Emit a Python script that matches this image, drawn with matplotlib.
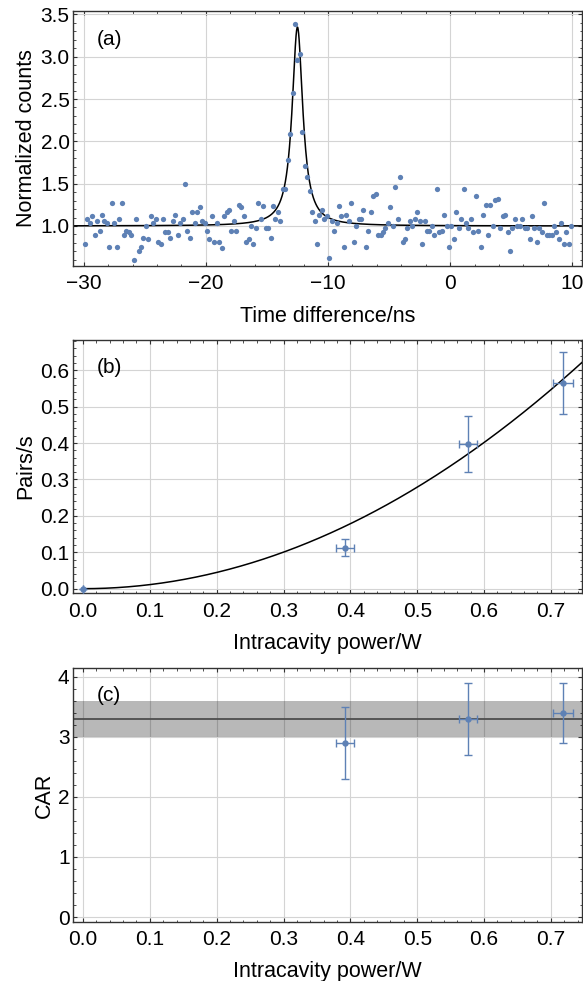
import numpy as np
import matplotlib
matplotlib.use("Agg")
import matplotlib.pyplot as plt
from matplotlib.ticker import MultipleLocator

plt.rcParams['font.family'] = ['Liberation Sans', 'DejaVu Sans']

# ---------------- Panel (a): coincidence histogram ----------------
time_start_ns = -29.9
bin_width_ns = 0.2
counts = [
    0.783, 1.083, 1.035, 1.114, 0.894, 1.055, 0.945, 1.134, 1.055, 1.035,
    0.752, 1.276, 1.035, 0.752, 1.083, 1.276, 0.894, 0.945, 0.925, 0.894,
    0.594, 1.083, 0.704, 0.752, 0.862, 1.004, 0.846, 1.114, 1.035, 1.083,
    0.815, 0.783, 1.083, 0.925, 0.925, 0.862, 1.055, 1.134, 0.894, 1.035,
    1.083, 1.496, 0.945, 0.862, 1.165, 1.035, 1.165, 1.225, 1.055, 1.035,
    0.945, 0.846, 1.114, 0.815, 1.035, 0.815, 0.736, 1.114, 1.165, 1.193,
    0.945, 1.055, 0.945, 1.244, 1.225, 1.114, 0.815,
    0.846, 1.004, 0.783, 0.972, 1.272, 1.083, 1.240, 0.972, 0.972, 0.862,
    1.240, 1.083, 1.165, 1.055, 1.433, 1.433, 1.784, 2.084, 2.572, 3.388,
    2.958, 3.037, 2.115, 1.705, 1.575, 1.414, 1.165, 1.055, 0.783, 1.130,
    1.193, 1.083, 1.114, 0.626, 1.055, 0.945, 1.031, 1.240, 1.114, 0.752,
    1.130, 1.055, 1.272, 0.815, 1.004, 1.083, 1.083, 1.193, 0.752, 0.945,
    1.165, 1.351, 1.382, 0.894, 0.894, 0.925, 0.972, 1.035, 1.225, 1.004,
    1.461, 1.083, 1.575, 0.815, 0.846, 0.972, 1.055,
    1.004, 1.083, 1.165, 1.055, 0.783, 1.055, 0.945, 0.945, 1.004, 0.894,
    1.433, 0.925, 0.945, 1.134, 1.004, 0.752, 1.004, 0.846, 1.165, 0.972,
    1.083, 1.433, 1.035, 0.972, 1.083, 0.925, 1.351, 0.945, 0.752, 1.134,
    1.244, 0.894, 1.244, 1.004, 1.303, 1.323, 0.972, 1.114, 1.134, 0.925,
    0.704, 0.972, 1.083, 1.004, 1.004, 1.083, 0.972, 0.972, 0.846, 1.114,
    0.972, 0.815, 0.972, 0.925, 1.276, 0.894, 0.894, 0.894, 1.004, 0.925,
    0.846, 1.035, 0.783, 0.925, 0.783, 1.004,
]
# Lorentzian fit parameters
peak_center = -12.5
peak_amp = 2.35
peak_hwhm = 0.53
peak_baseline = 1.0

# ---------------- Panel (b): pair rate vs power ----------------
power_W = [0.0, 0.392, 0.576, 0.718]
power_err = [0.0, 0.014, 0.014, 0.015]
pairs = [0.0, 0.113, 0.397, 0.565]
pairs_err = [0.0, 0.024, 0.077, 0.084]
quad_coeff = 1.115  # fit: pairs = c * P^2

# ---------------- Panel (c): CAR vs power ----------------
car_power = [0.392, 0.576, 0.718]
car_power_err = [0.014, 0.014, 0.015]
car = [2.9, 3.3, 3.4]
car_err = [0.6, 0.6, 0.5]
car_mean = 3.3
car_low = 3.0
car_high = 3.6

BLUE = '#5E81B5'
FRAME = '#333333'
GRID = '#d4d4d4'
TICK_FS = 15
LABEL_FS = 15.5

W, H = 583, 981
fig = plt.figure(figsize=(W / 100, H / 100), dpi=100)


def px_axes(left, top, right, bottom):
    return fig.add_axes([left / W, 1 - bottom / H, (right - left) / W, (bottom - top) / H])


ax_a = px_axes(73, 11, 582, 266)
ax_b = px_axes(73, 340, 582, 593.3)
ax_c = px_axes(73, 667.7, 582, 922)


def style(ax, xlabel, ylabel, ylab_base_px, panel, axh):
    for s in ax.spines.values():
        s.set_color(FRAME)
        s.set_linewidth(1.0)
    ax.tick_params(which='both', direction='in', top=True, right=True,
                   color=FRAME, labelsize=TICK_FS, labelcolor='black')
    ax.tick_params(which='major', length=3.2, width=0.8)
    ax.tick_params(which='minor', length=1.8, width=0.6)
    ax.tick_params(axis='x', which='major', pad=6)
    ax.tick_params(axis='y', which='major', pad=2.5)
    ax.grid(True, which='major', color=GRID, lw=0.8)
    ax.set_axisbelow(True)
    ax.set_xlabel(xlabel, fontsize=LABEL_FS)
    ax.set_ylabel(ylabel, fontsize=LABEL_FS)
    ax.xaxis.set_label_coords(0.5, -55.5 / axh)
    ax.xaxis.label.set_verticalalignment('baseline')
    ax.yaxis.set_label_coords((ylab_base_px - 73) / 509, 0.5)
    ax.yaxis.label.set_verticalalignment('baseline')
    ax.text(0.047, 0.89, panel, transform=ax.transAxes, fontsize=TICK_FS,
            ha='left', va='center')


# ---- (a)
times = time_start_ns + bin_width_ns * np.arange(len(counts))
ax_a.set_xlim(-30.87, 10.79)
ax_a.set_ylim(0.527, 3.54)
tt = np.linspace(-30.87, 10.79, 2000)
fit_a = peak_baseline + peak_amp / (1 + ((tt - peak_center) / peak_hwhm) ** 2)
ax_a.plot(tt, fit_a, color='black', lw=1.1, zorder=2)
ax_a.plot(times, counts, 'o', ms=3.8, color=BLUE, mec='none', zorder=3)
ax_a.xaxis.set_major_locator(MultipleLocator(10))
ax_a.xaxis.set_minor_locator(MultipleLocator(2))
ax_a.yaxis.set_major_locator(MultipleLocator(0.5))
ax_a.yaxis.set_minor_locator(MultipleLocator(0.1))
style(ax_a, 'Time difference/ns', 'Normalized counts', 31.7, '(a)', 255)

# ---- (b)
ax_b.set_xlim(-0.015, 0.7466)
ax_b.set_ylim(-0.0127, 0.683)
pp = np.linspace(0, 0.7466, 400)
ax_b.plot(pp, quad_coeff * pp ** 2, color='black', lw=1.1, zorder=2)
ax_b.errorbar(power_W, pairs, xerr=power_err, yerr=pairs_err, fmt='o', ms=4.6,
              color=BLUE, mec='none', ecolor=BLUE, elinewidth=1.0, capsize=3,
              capthick=1.0, zorder=3)
ax_b.xaxis.set_major_locator(MultipleLocator(0.1))
ax_b.xaxis.set_minor_locator(MultipleLocator(0.02))
ax_b.yaxis.set_major_locator(MultipleLocator(0.1))
ax_b.yaxis.set_minor_locator(MultipleLocator(0.02))
style(ax_b, 'Intracavity power/W', 'Pairs/s', 31.7, '(b)', 253.3)

# ---- (c)
ax_c.set_xlim(-0.015, 0.7466)
ax_c.set_ylim(-0.083, 4.15)
ax_c.axhspan(car_low, car_high, color='black', alpha=0.28, lw=0, zorder=1)
ax_c.axhline(car_mean, color='#4d4d4d', lw=1.3, zorder=2)
ax_c.errorbar(car_power, car, xerr=car_power_err, yerr=car_err, fmt='o', ms=4.6,
              color=BLUE, mec='none', ecolor=BLUE, elinewidth=1.0, capsize=3,
              capthick=1.0, zorder=3)
ax_c.xaxis.set_major_locator(MultipleLocator(0.1))
ax_c.xaxis.set_minor_locator(MultipleLocator(0.02))
ax_c.yaxis.set_major_locator(MultipleLocator(1))
ax_c.yaxis.set_minor_locator(MultipleLocator(0.2))
style(ax_c, 'Intracavity power/W', 'CAR', 50, '(c)', 254.3)

fig.savefig('out.png', dpi=100)
